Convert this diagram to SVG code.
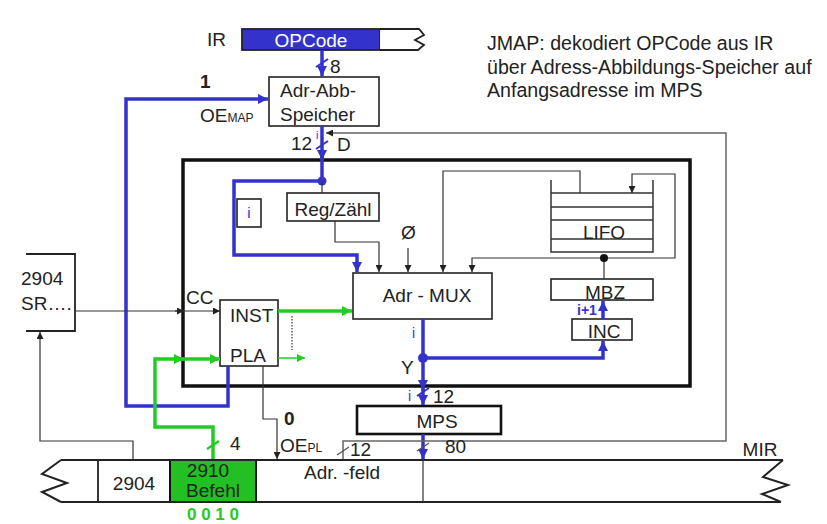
<svg xmlns="http://www.w3.org/2000/svg" width="827" height="524" viewBox="0 0 827 524">
<style>
text{font-family:"Liberation Sans",Arial,sans-serif;font-size:19px;fill:#222}
.box{fill:#fff;stroke:#222;stroke-width:1.6}
.thin{fill:none;stroke:#333;stroke-width:1.2}
.gray{fill:none;stroke:#666;stroke-width:1.5}
.blue{fill:none;stroke:#3333cc;stroke-width:3.5}
.green{fill:none;stroke:#22cc22;stroke-width:3.5}
.bt{fill:#3333cc;font-size:14px;font-weight:bold}
.sub{font-size:12px}
.note{font-size:19.6px}
</style>
<defs>
<marker id="ak" markerUnits="userSpaceOnUse" markerWidth="7" markerHeight="7" refX="7" refY="3.5" orient="auto"><path d="M0,0L7,3.5L0,7z" fill="#222"/></marker>
<marker id="ab" markerUnits="userSpaceOnUse" markerWidth="10" markerHeight="10" refX="10" refY="5" orient="auto"><path d="M0,0L10,5L0,10z" fill="#3333cc"/></marker>
<marker id="ag" markerUnits="userSpaceOnUse" markerWidth="10" markerHeight="10" refX="10" refY="5" orient="auto"><path d="M0,0L10,5L0,10z" fill="#22cc22"/></marker>
<marker id="ag2" markerUnits="userSpaceOnUse" markerWidth="8" markerHeight="8" refX="8" refY="4" orient="auto"><path d="M0,0L8,4L0,8z" fill="#22cc22"/></marker>
</defs>

<g id="note">
<text class="note" x="487" y="50">JMAP: dekodiert OPCode aus IR</text>
<text class="note" x="487" y="74">über Adress-Abbildungs-Speicher auf</text>
<text class="note" x="487" y="97">Anfangsadresse im MPS</text>
</g>

<g id="IR">
<text x="207" y="46">IR</text>
<rect x="242" y="29" width="138" height="21" fill="#3333cc" stroke="#222" stroke-width="1.8"/>
<path d="M380,29H419L424,35L415,40L424,45L418,50H380" fill="#fff" stroke="#222" stroke-width="1.8"/>
<text x="311" y="47" text-anchor="middle" style="fill:#fff">OPCode</text>
</g>

<g id="adrabb">
<rect x="269" y="77" width="110" height="49" class="box" stroke-width="2"/>
<text x="280" y="97">Adr-Abb-</text>
<text x="280" y="121">Speicher</text>
</g>

<g id="bigbox">
<rect x="183" y="160" width="507" height="226" fill="none" stroke="#111" stroke-width="3.5"/>
</g>

<g id="regzaehl">
<rect x="287" y="193" width="92" height="28" class="box"/>
<text x="333" y="216" text-anchor="middle">Reg/Zähl</text>
</g>

<g id="ibox">
<rect x="237" y="199" width="24" height="28" class="box"/>
<text x="249" y="218" text-anchor="middle" style="fill:#3333cc;font-size:15px">i</text>
</g>

<g id="adrmux">
<rect x="353" y="273" width="139" height="46" class="box"/>
<text x="427" y="302" text-anchor="middle">Adr - MUX</text>
</g>

<g id="lifo">
<path d="M551,180V252H653V180M551,193H653M551,207H653M551,220H653M551,239H653" fill="#fff" stroke="#333" stroke-width="1.5"/>
<text x="604" y="239" text-anchor="middle">LIFO</text>
</g>

<g id="mbz">
<rect x="551" y="279" width="102" height="21" class="box"/>
<text x="605" y="299" text-anchor="middle">MBZ</text>
</g>

<g id="inc">
<rect x="572" y="319" width="60" height="21" class="box"/>
<text x="604" y="338" text-anchor="middle">INC</text>
</g>

<g id="instpla">
<rect x="220" y="300" width="58" height="66" class="box"/>
<text x="230" y="322">INST</text>
<text x="230" y="362">PLA</text>
</g>

<g id="mps">
<rect x="357" y="406" width="144" height="28" fill="#fff" stroke="#111" stroke-width="2.6"/>
<text x="437" y="428" text-anchor="middle">MPS</text>
</g>

<g id="sr2904">
<path d="M26,254H75V331H26" fill="#fff" stroke="#222" stroke-width="1.8"/>
<text x="21" y="285">2904</text>
<text x="21" y="310">SR….</text>
</g>

<g id="mir">
<rect x="170" y="460" width="86" height="42" fill="#22c022" stroke="#111" stroke-width="2"/>
<path d="M61,460H783M61,502H781M98,460V502" fill="none" stroke="#222" stroke-width="1.8"/>
<path d="M61,460L42,474L67,483L42,492L61,502" fill="none" stroke="#222" stroke-width="2"/>
<path d="M783,460L763,477L788,485L762,494L781,502" fill="none" stroke="#222" stroke-width="2"/>
<text x="134" y="490" text-anchor="middle">2904</text>
<text x="208" y="477" text-anchor="middle">2910</text>
<text x="213" y="497" text-anchor="middle">Befehl</text>
<text x="342" y="479" text-anchor="middle">Adr. -feld</text>
<text x="760" y="456" text-anchor="middle">MIR</text>
<text x="213" y="520" text-anchor="middle" style="fill:#22cc22;font-weight:bold;font-size:17px">0 0 1 0</text>
</g>

<g id="connectors">
<path class="blue" d="M322,50V76" marker-end="url(#ab)"/>
<path class="blue" d="M322,126V181"/>
<path class="blue" d="M322,150V160" marker-end="url(#ab)"/>
<path class="blue" d="M322,181H234V255H357V272" marker-end="url(#ab)"/>
<path class="blue" d="M423,319V358H603V341" marker-end="url(#ab)"/>
<path class="blue" d="M423,358V405" marker-end="url(#ab)"/>
<path class="blue" d="M423,380V390" marker-end="url(#ab)"/>
<path class="blue" d="M603,319V301" marker-end="url(#ab)"/>
<path class="blue" d="M423,434V459" marker-end="url(#ab)" stroke-width="2"/>
<path class="blue" d="M228,366V406H126V99H268" marker-end="url(#ab)"/>
<circle cx="322" cy="181" r="4.5" fill="#3333cc"/>
<circle cx="423" cy="358" r="5" fill="#3333cc"/>
<path class="thin" d="M322,181V193"/>
<path class="thin" d="M335,221V242H379V272" marker-end="url(#ak)"/>
<path class="thin" d="M408,248V272" marker-end="url(#ak)"/>
<path class="thin" d="M580,193V171H443V272" marker-end="url(#ak)"/>
<path class="thin" d="M604,279V258H472V272" marker-end="url(#ak)"/>
<path class="thin" d="M604,258H675V174H632V193" marker-end="url(#ak)"/>
<circle cx="604" cy="258" r="4" fill="#111"/>
<path class="thin" d="M423,459V502"/>
<path class="thin" d="M75,311H220" marker-end="url(#ak)"/>
<path class="thin" d="M175,311H184" marker-end="url(#ak)"/>
<path class="thin" d="M133,459V441H40V332" marker-end="url(#ak)"/>
<path class="thin" d="M263,366V419H277V459" marker-end="url(#ak)"/>
<path class="thin" d="M292,316V350" stroke-dasharray="1.5,1.5" stroke-width="1.8"/>
<path class="gray" d="M343,459V441H726V133H326" marker-end="url(#ak)"/>
<path class="green" d="M278,311H352" marker-end="url(#ag)"/>
<path class="green" d="M213,459V427H155V359H220" marker-end="url(#ag)"/>
<path class="green" d="M175,359H184" marker-end="url(#ag)"/>
<path fill="none" stroke="#22cc22" stroke-width="1.5" d="M278,358H305" marker-end="url(#ag2)"/>
<path d="M316,67L328,59M316,149L328,141M417,396L429,388" stroke="#3333cc" stroke-width="2" fill="none"/>
<path d="M417,451L429,443" stroke="#555" stroke-width="1.3" fill="none"/>
<path d="M207,449L219,441" stroke="#22cc22" stroke-width="2.5" fill="none"/>
<path d="M337,455L349,447" stroke="#555" stroke-width="1.3" fill="none"/>
</g>

<g id="labels">
<text x="330" y="73">8</text>
<text x="291" y="150">12</text>
<text x="337" y="151">D</text>
<text x="316" y="139" style="fill:#3333cc;font-size:11px">i</text>
<text x="401" y="239">Ø</text>
<text x="577" y="315" class="bt">i+1</text>
<text x="412" y="338" style="fill:#3333cc;font-size:14px">i</text>
<text x="401" y="374">Y</text>
<text x="408" y="401" style="fill:#3333cc;font-size:14px">i</text>
<text x="433" y="403">12</text>
<text x="445" y="453">80</text>
<text x="350" y="456">12</text>
<text x="230" y="450">4</text>
<text x="186" y="304">CC</text>
<text x="200" y="88" style="font-weight:bold">1</text>
<text x="200" y="122">OE<tspan class="sub">MAP</tspan></text>
<text x="284" y="425" style="font-weight:bold">0</text>
<text x="280" y="452">OE<tspan class="sub">PL</tspan></text>
</g>
</svg>
